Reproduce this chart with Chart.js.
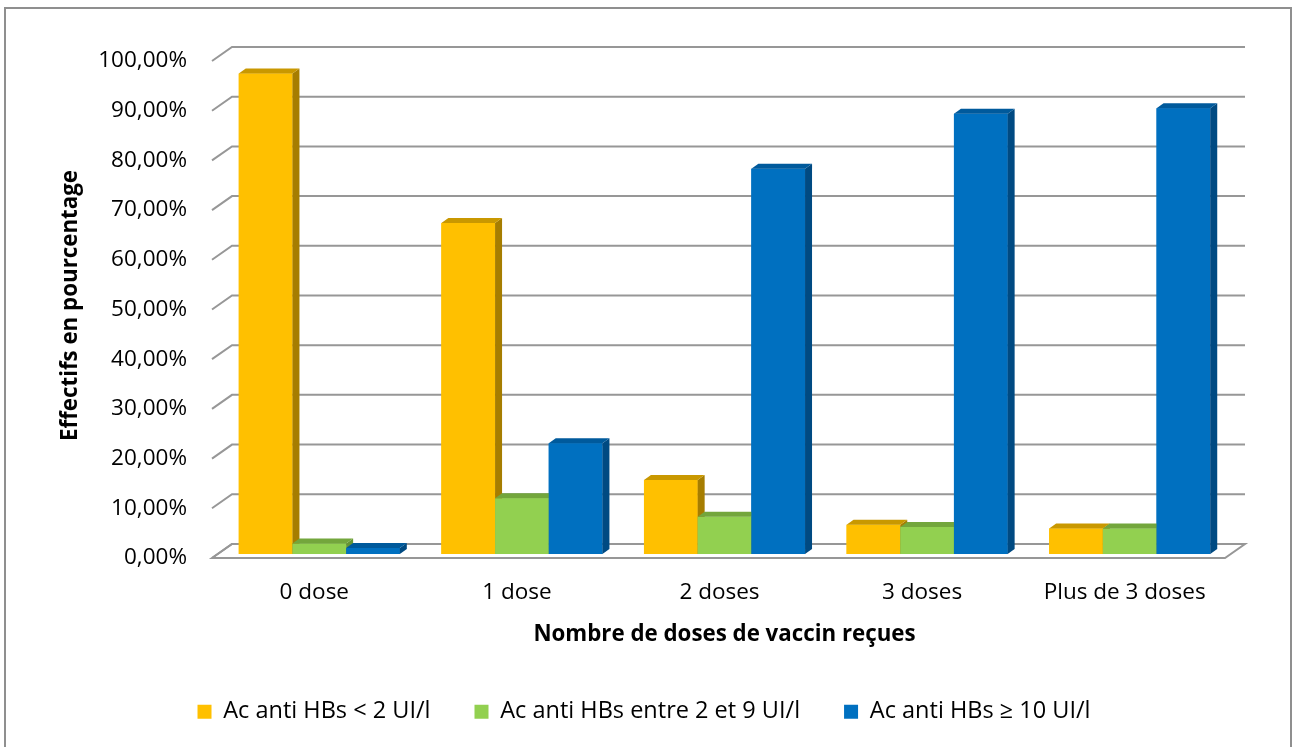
<html>
  <head>
    <script src="https://cdn.jsdelivr.net/npm/chart.js@4.4.0/dist/chart.umd.min.js"></script>
    <style>
      body {
        margin: 0;
        overflow: hidden;
        background: #ffffff;
      }
      #wrap {
        position: absolute;
        left: 0;
        top: 0;
        width: 1295px;
        height: 747px;
      }
    </style>
  </head>

  <body>
    <div id="wrap"><canvas id="chart"></canvas></div>

    <script>
      const categories = ["0 dose", "1 dose", "2 doses", "3 doses", "Plus de 3 doses"];
      const series_names = [
        "Ac anti HBs < 2 UI/l",
        "Ac anti HBs entre 2 et 9 UI/l",
        "Ac anti HBs ≥ 10 UI/l",
      ];
      const below_2 = [96.7, 66.6, 14.9, 5.9, 5.1];
      const between_2_9 = [2.1, 11.2, 7.5, 5.4, 5.1];
      const above_10 = [1.2, 22.3, 77.5, 88.6, 89.7];
      const y_ticks = [0, 10, 20, 30, 40, 50, 60, 70, 80, 90, 100];

      const front_colors = ["#FFC000", "#92D050", "#0070C0"];
      const top_colors = ["#C99800", "#73A63C", "#005A9C"];
      const side_colors = ["#A67D00", "#669533", "#004A82"];

      const FONT = "'Open Sans', 'Liberation Sans', sans-serif";
      const DX = 7; // bar depth
      const DY = 5;
      const grid_color = "#979797";

      const fmt_pct = (v) => v.toFixed(2).replace(".", ",") + "%";

      // fake 3d: floor, back wall grid lines, bar tops and sides
      const depth3d = {
        id: "depth3d",
        beforeDraw: (chart) => {
          const ctx = chart.ctx;
          ctx.save();
          ctx.strokeStyle = "#8f8f8f";
          ctx.lineWidth = 2;
          ctx.strokeRect(5, 8, 1286, 800);
          ctx.restore();
        },
        beforeDatasetsDraw: (chart) => {
          const ctx = chart.ctx;
          const y = chart.scales.y;
          const area = chart.chartArea;
          ctx.save();
          ctx.strokeStyle = grid_color;
          ctx.lineWidth = 2;
          // floor
          const y0 = y.getPixelForValue(0);
          ctx.beginPath();
          ctx.moveTo(area.left - 6, y0 + 4);
          ctx.lineTo(area.left + 14, y0 - 10);
          ctx.lineTo(area.right + 14, y0 - 10);
          ctx.lineTo(area.right - 6, y0 + 4);
          ctx.closePath();
          ctx.stroke();
          for (const v of y_ticks) {
            const py = y.getPixelForValue(v);
            ctx.beginPath();
            ctx.moveTo(area.left - 6, py + 4);
            ctx.lineTo(area.left + 14, py - 10);
            ctx.lineTo(area.right + 14, py - 10);
            ctx.stroke();
          }
          ctx.restore();
        },
        afterDatasetsDraw: (chart) => {
          const ctx = chart.ctx;
          const metas = chart.data.datasets.map((d, i) => chart.getDatasetMeta(i));
          ctx.save();
          categories.forEach((c, j) => {
            metas.forEach((meta, i) => {
              const bar = meta.data[j];
              bar.draw(ctx);
              const p = bar.getProps(["x", "y", "base", "width"], true);
              const l = p.x - p.width / 2;
              const r = p.x + p.width / 2;
              ctx.fillStyle = side_colors[i];
              ctx.beginPath();
              ctx.moveTo(r, p.y);
              ctx.lineTo(r + DX, p.y - DY);
              ctx.lineTo(r + DX, p.base - DY);
              ctx.lineTo(r, p.base);
              ctx.closePath();
              ctx.fill();
              ctx.fillStyle = top_colors[i];
              ctx.beginPath();
              ctx.moveTo(l, p.y);
              ctx.lineTo(l + DX, p.y - DY);
              ctx.lineTo(r + DX, p.y - DY);
              ctx.lineTo(r, p.y);
              ctx.closePath();
              ctx.fill();
            });
          });
          ctx.restore();
        },
      };

      const series = [below_2, between_2_9, above_10];

      new Chart(document.getElementById("chart"), {
        type: "bar",
        data: {
          labels: categories,
          datasets: series.map((values, i) => ({
            label: series_names[i],
            data: values,
            backgroundColor: front_colors[i],
            borderWidth: 0,
            barPercentage: 1,
            categoryPercentage: 0.795,
          })),
        },
        options: {
          responsive: true,
          maintainAspectRatio: false,
          animation: false,
          events: [],
          layout: { padding: { left: 57, right: 64, top: 57, bottom: 13.5 } },
          scales: {
            x: {
              grid: { display: false, drawTicks: false },
              border: { display: false },
              ticks: {
                color: "#000",
                font: { family: FONT, size: 22.5 },
                padding: 25,
                labelOffset: -5,
                maxRotation: 0,
              },
              title: {
                display: true,
                text: "Nombre de doses de vaccin reçues",
                color: "#000",
                font: { family: FONT, size: 22.3, weight: "bold" },
                padding: 0,
              },
              afterFit: (s) => {
                s.height = 94;
              },
            },
            y: {
              min: 0,
              max: 100,
              grid: { display: false, drawTicks: false },
              border: { display: false },
              afterBuildTicks: (s) => {
                s.ticks = y_ticks.map((v) => ({ value: v }));
              },
              ticks: {
                color: "#000",
                font: { family: FONT, size: 22.5 },
                padding: 31,
                labelOffset: 4,
                callback: (v) => fmt_pct(v),
              },
              title: {
                display: true,
                text: "Effectifs en pourcentage",
                color: "#000",
                font: { family: FONT, size: 22.3, weight: "bold" },
                padding: 0,
              },
              afterFit: (s) => {
                s.width = 161;
              },
            },
          },
          plugins: {
            legend: {
              position: "bottom",
              // empty title only pushes the legend row down a little
              title: { display: true, text: "", font: { size: 6.7 }, padding: 0 },
              labels: {
                color: "#000",
                font: { family: FONT, size: 23.5 },
                boxWidth: 14,
                boxHeight: 14,
                padding: 44,
              },
            },
            tooltip: { enabled: false },
          },
        },
        plugins: [depth3d],
      });
    </script>
  </body>
</html>
